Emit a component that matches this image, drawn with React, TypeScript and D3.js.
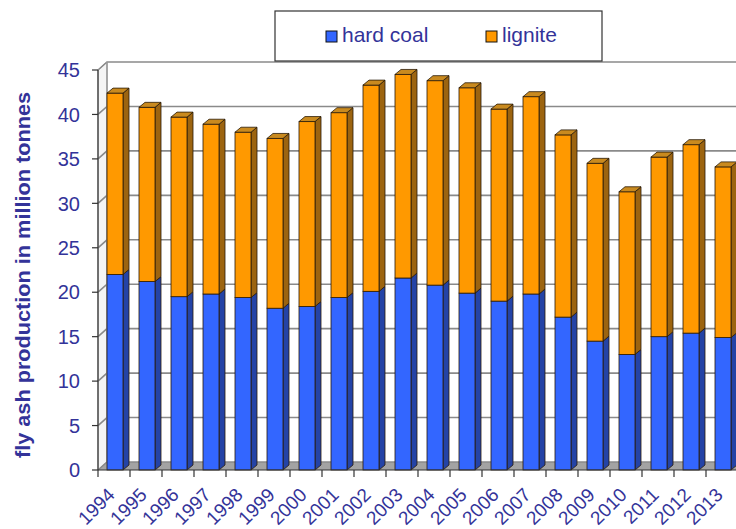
import React, { useEffect, useRef } from "react";
import * as d3 from "d3";

// values (million tonnes)
const years = [
  "1994", "1995", "1996", "1997", "1998", "1999", "2000", "2001", "2002", "2003",
  "2004", "2005", "2006", "2007", "2008", "2009", "2010", "2011", "2012", "2013",
];
const hardCoal = [
  22.0, 21.2, 19.5, 19.8, 19.4, 18.2, 18.4, 19.4, 20.1, 21.6,
  20.8, 19.9, 19.0, 19.8, 17.2, 14.5, 13.0, 15.0, 15.4, 14.9,
];
const lignite = [
  20.4, 19.6, 20.2, 19.1, 18.6, 19.1, 20.8, 20.8, 23.2, 22.9,
  23.0, 23.1, 21.6, 22.2, 20.5, 20.0, 18.3, 20.2, 21.2, 19.2,
];
const seriesNames = ["hard coal", "lignite"];
const yTicks = [0, 5, 10, 15, 20, 25, 30, 35, 40, 45];

const App = () => {
  const svgRef = useRef<SVGSVGElement>(null);

  useEffect(() => {
    const W = 736;
    const H = 529;
    const textColor = "#333399";
    const font = "'Liberation Sans', Arial, sans-serif";

    // 3d offsets
    const wallDx = 9, wallDy = -8; // depth of the box
    const barDx = 6, barDy = -5; // depth of a bar

    const svg = d3.select(svgRef.current).attr("width", W).attr("height", H);
    svg.selectAll("*").remove();

    const x = d3.scaleBand().domain(years).range([98, 98 + 32 * years.length]).padding(0);
    const y = d3.scaleLinear().domain([0, 45]).range([470, 70]);

    const x0 = x.range()[0];
    const x1 = x.range()[1];

    // left side wall
    svg.append("path")
      .attr("d", `M${x0},${y(45)} L${x0 + wallDx},${y(45) + wallDy} L${x0 + wallDx},${y(0) + wallDy} L${x0},${y(0)} Z`)
      .attr("fill", "#f4f4f4")
      .attr("stroke", "#999")
      .attr("stroke-width", 1);

    // floor
    svg.append("path")
      .attr("d", `M${x0},${y(0)} L${x1},${y(0)} L${x1 + wallDx},${y(0) + wallDy} L${x0 + wallDx},${y(0) + wallDy} Z`)
      .attr("fill", "#a3a3a3");

    // gridlines on side wall + back wall
    yTicks.forEach((t) => {
      const yf = y(t);
      const yb = yf + wallDy;
      svg.append("path")
        .attr("d", `M${x0},${yf} L${x0 + wallDx},${yb} L${W + 20},${yb}`)
        .attr("fill", "none")
        .attr("stroke", "#8a8a8a")
        .attr("stroke-width", 1.6);
    });

    // back wall left edge
    svg.append("line")
      .attr("x1", x0 + wallDx).attr("x2", x0 + wallDx)
      .attr("y1", y(45) + wallDy).attr("y2", y(0) + wallDy)
      .attr("stroke", "#9a9a9a").attr("stroke-width", 1.5);

    // stacked bars
    const table = years.map((yr, i) => ({ year: yr, "hard coal": hardCoal[i], lignite: lignite[i] }));
    const stacked = d3.stack<any>().keys(seriesNames)(table);
    const colors: Record<string, { front: string; side: string; top: string }> = {
      "hard coal": { front: "#3366ff", side: "#2443a6", top: "#5a82ff" },
      lignite: { front: "#ff9900", side: "#9c6410", top: "#c98a1f" },
    };
    const barW = x.bandwidth() * 0.5;
    const barOff = 9;
    const outline = "#2a1a08";

    years.forEach((yr, i) => {
      const bx = (x(yr) as number) + barOff;
      stacked.forEach((s, si) => {
        const c = colors[s.key];
        const yLo = y(s[i][0]);
        const yHi = y(s[i][1]);
        const g = svg.append("g");
        // side face
        g.append("path")
          .attr("d", `M${bx + barW},${yLo} L${bx + barW + barDx},${yLo + barDy} L${bx + barW + barDx},${yHi + barDy} L${bx + barW},${yHi} Z`)
          .attr("fill", c.side)
          .attr("stroke", outline)
          .attr("stroke-width", 0.8)
          .attr("stroke-linejoin", "round");
        // front face
        g.append("rect")
          .attr("x", bx)
          .attr("y", yHi)
          .attr("width", barW)
          .attr("height", yLo - yHi)
          .attr("fill", c.front)
          .attr("stroke", outline)
          .attr("stroke-width", 0.8);
        // top face only on the last series
        if (si === stacked.length - 1) {
          g.append("path")
            .attr("d", `M${bx},${yHi} L${bx + barW},${yHi} L${bx + barW + barDx},${yHi + barDy} L${bx + barDx},${yHi + barDy} Z`)
            .attr("fill", c.top)
            .attr("stroke", outline)
            .attr("stroke-width", 0.8)
            .attr("stroke-linejoin", "round");
        }
      });
    });

    // front axis lines
    svg.append("line")
      .attr("x1", x0).attr("x2", W + 20)
      .attr("y1", y(0)).attr("y2", y(0))
      .attr("stroke", "#333").attr("stroke-width", 1.2);
    svg.append("line")
      .attr("x1", x0).attr("x2", x0)
      .attr("y1", y(45)).attr("y2", y(0))
      .attr("stroke", "#333").attr("stroke-width", 1.2);

    // y ticks and labels
    yTicks.forEach((t) => {
      svg.append("line")
        .attr("x1", x0 - 6).attr("x2", x0)
        .attr("y1", y(t)).attr("y2", y(t))
        .attr("stroke", "#333").attr("stroke-width", 1.2);
      svg.append("text")
        .attr("x", 80)
        .attr("y", y(t))
        .attr("dy", "0.36em")
        .attr("text-anchor", "end")
        .attr("font-family", font)
        .attr("font-size", 20)
        .attr("fill", textColor)
        .text(t);
    });

    // x ticks (category boundaries)
    d3.range(years.length + 1).forEach((k) => {
      const tx = x0 + x.step() * k;
      svg.append("line")
        .attr("x1", tx).attr("x2", tx)
        .attr("y1", y(0)).attr("y2", y(0) + 7)
        .attr("stroke", "#333").attr("stroke-width", 1.2);
    });

    // x labels, rotated
    years.forEach((yr) => {
      const cx = (x(yr) as number) + x.bandwidth() / 2 + 2;
      svg.append("text")
        .attr("transform", `translate(${cx},496) rotate(-45)`)
        .attr("text-anchor", "end")
        .attr("font-family", font)
        .attr("font-size", 19)
        .attr("fill", textColor)
        .text(yr);
    });

    // y axis title
    svg.append("text")
      .attr("transform", `translate(22,275) rotate(-90)`)
      .attr("text-anchor", "middle")
      .attr("dominant-baseline", "central")
      .attr("font-family", font)
      .attr("font-size", 21)
      .attr("font-weight", "bold")
      .attr("fill", textColor)
      .attr("textLength", 366)
      .attr("lengthAdjust", "spacingAndGlyphs")
      .text("fly ash production in million tonnes");

    // legend
    const legend = svg.append("g");
    legend.append("rect")
      .attr("x", 275).attr("y", 11)
      .attr("width", 327).attr("height", 50)
      .attr("fill", "#fff")
      .attr("stroke", "#333")
      .attr("stroke-width", 1.2);
    const legendX = [326, 486];
    seriesNames.forEach((name, i) => {
      legend.append("rect")
        .attr("x", legendX[i]).attr("y", 31)
        .attr("width", 11).attr("height", 11)
        .attr("fill", colors[name].front)
        .attr("stroke", "#111")
        .attr("stroke-width", 1);
      legend.append("text")
        .attr("x", legendX[i] + 16)
        .attr("y", 42)
        .attr("font-family", font)
        .attr("font-size", 21)
        .attr("fill", textColor)
        .text(name);
    });
  }, []);

  return (
    <div>
      <svg ref={svgRef} style={{ position: "absolute", left: 0, top: 0 }}></svg>
    </div>
  );
};

export default App;
